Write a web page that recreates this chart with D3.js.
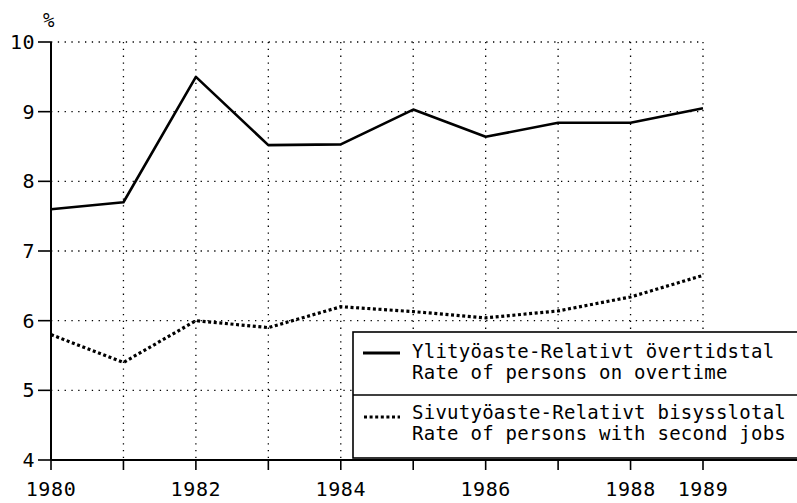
<!DOCTYPE html>
<html>
<head>
<meta charset="utf-8"/>
<script src="https://cdnjs.cloudflare.com/ajax/libs/d3/7.8.5/d3.min.js"></script>
<style>
  body { margin: 0; background: #fff; }
  text { font-family: "DejaVu Sans Mono", monospace; fill: #000; }
</style>
</head>
<body>
<script>
// data
const years = [1980, 1981, 1982, 1983, 1984, 1985, 1986, 1987, 1988, 1989];
const overtime = [7.6, 7.7, 9.5, 8.52, 8.53, 9.03, 8.64, 8.84, 8.84, 9.05];
const secondJobs = [5.8, 5.4, 6.0, 5.9, 6.2, 6.13, 6.04, 6.14, 6.34, 6.65];
const yearLabels = [1980, 1982, 1984, 1986, 1988, 1989];
const yTicks = [4, 5, 6, 7, 8, 9, 10];
const legendLines = [
  ['Ylityöaste-Relativt övertidstal', 'Rate of persons on overtime'],
  ['Sivutyöaste-Relativt bisysslotal', 'Rate of persons with second jobs']
];

const W = 797, H = 503;
const svg = d3.select('body').append('svg')
                             .attr('width', W)
                             .attr('height', H);

const x = d3.scaleLinear().domain([1980, 1989]).range([51, 703]);
const y = d3.scaleLinear().domain([4, 10]).range([460, 42]);

// dotted grid
const grid = svg.append('g')
  .attr('stroke', '#000')
  .attr('stroke-width', 1.3)
  .attr('stroke-dasharray', '1.3,5.5');
grid.selectAll('line.h').data(yTicks.filter(d => d > 4)).enter().append('line')
  .attr('x1', x(1980)).attr('x2', x(1989))
  .attr('y1', d => y(d)).attr('y2', d => y(d));
grid.selectAll('line.v').data(years.slice(1)).enter().append('line')
  .attr('x1', d => x(d)).attr('x2', d => x(d))
  .attr('y1', y(10)).attr('y2', y(4));

// y axis
svg.append('line')
  .attr('x1', x(1980)).attr('x2', x(1980))
  .attr('y1', y(10)).attr('y2', y(4))
  .attr('stroke', '#000').attr('stroke-width', 2);
svg.selectAll('line.ytick').data(yTicks).enter().append('line')
  .attr('x1', x(1980) - 13).attr('x2', x(1980))
  .attr('y1', d => y(d)).attr('y2', d => y(d))
  .attr('stroke', '#000').attr('stroke-width', 1.6);
svg.selectAll('text.ylab').data(yTicks).enter().append('text')
  .attr('x', x(1980) - 16)
  .attr('y', d => y(d) + 7)
  .attr('text-anchor', 'end')
  .attr('font-size', 20)
  .attr('letter-spacing', 0.5)
  .text(d => d);
svg.append('text')
  .attr('x', 43).attr('y', 27)
  .attr('font-size', 19)
  .text('%');

// x axis
svg.append('line')
  .attr('x1', x(1980)).attr('x2', W)
  .attr('y1', y(4)).attr('y2', y(4))
  .attr('stroke', '#000').attr('stroke-width', 2);
svg.selectAll('line.xtick').data(years).enter().append('line')
  .attr('x1', d => x(d)).attr('x2', d => x(d))
  .attr('y1', y(4)).attr('y2', y(4) + 10)
  .attr('stroke', '#000').attr('stroke-width', 1.6);
svg.selectAll('text.xlab').data(yearLabels).enter().append('text')
  .attr('x', d => x(d))
  .attr('y', 496)
  .attr('text-anchor', 'middle')
  .attr('font-size', 20)
  .attr('letter-spacing', 0.6)
  .text(d => d);

// series
const line = d3.line().x((d, i) => x(years[i])).y(d => y(d));
svg.append('path').datum(overtime)
  .attr('d', line)
  .attr('fill', 'none')
  .attr('stroke', '#000')
  .attr('stroke-width', 2.6)
  .attr('stroke-linejoin', 'round');
svg.append('path').datum(secondJobs)
  .attr('d', line)
  .attr('fill', 'none')
  .attr('stroke', '#000')
  .attr('stroke-width', 3.2)
  .attr('stroke-dasharray', '3,2.6');

// legend
const lg = svg.append('g');
lg.append('rect')
  .attr('x', 353).attr('y', 332)
  .attr('width', W - 353 + 5).attr('height', 126)
  .attr('fill', '#fff')
  .attr('stroke', '#000').attr('stroke-width', 1.6);
lg.append('line')
  .attr('x1', 353).attr('x2', W)
  .attr('y1', 395).attr('y2', 395)
  .attr('stroke', '#000').attr('stroke-width', 1.4);
lg.append('line')
  .attr('x1', 363).attr('x2', 400)
  .attr('y1', 353).attr('y2', 353)
  .attr('stroke', '#000').attr('stroke-width', 3);
lg.append('line')
  .attr('x1', 364).attr('x2', 400)
  .attr('y1', 417).attr('y2', 417)
  .attr('stroke', '#000').attr('stroke-width', 3)
  .attr('stroke-dasharray', '3,2.6');
const baseY = [[358, 379], [419, 440]];
legendLines.forEach((pair, i) => {
  pair.forEach((t, j) => {
    lg.append('text')
      .attr('x', 412)
      .attr('y', baseY[i][j])
      .attr('font-size', 19)
      .attr('letter-spacing', 0.25)
      .text(t);
  });
});
</script>
</body>
</html>
